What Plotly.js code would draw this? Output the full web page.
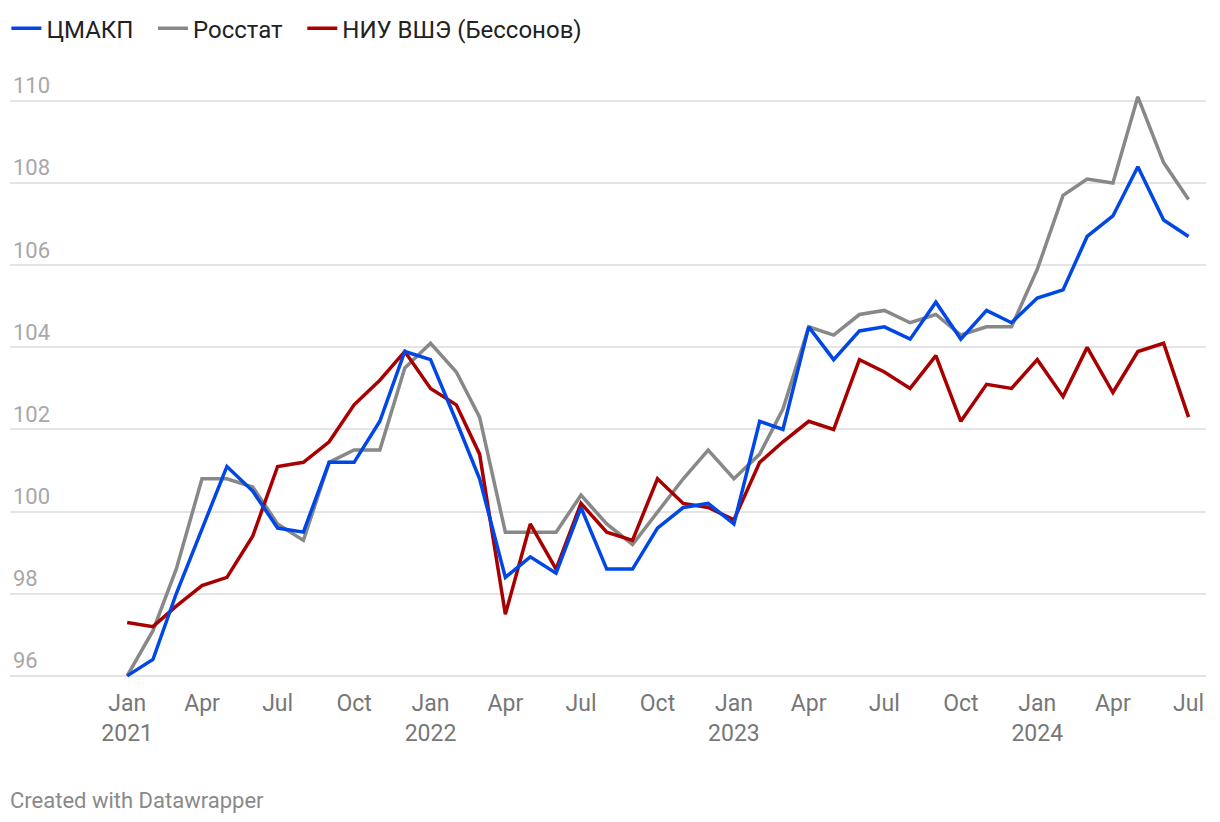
<!DOCTYPE html>
<html>
<head>
<meta charset="utf-8">
<script src="https://cdn.plot.ly/plotly-3.0.1.min.js"></script>
<style>
html,body{margin:0;padding:0;background:#fff;}
#chart{width:1220px;height:822px;}
</style>
</head>
<body>
<div id="chart"></div>
<script>
const months = [
 "2021-01-01","2021-02-01","2021-03-01","2021-04-01","2021-05-01","2021-06-01","2021-07-01","2021-08-01","2021-09-01","2021-10-01","2021-11-01","2021-12-01",
 "2022-01-01","2022-02-01","2022-03-01","2022-04-01","2022-05-01","2022-06-01","2022-07-01","2022-08-01","2022-09-01","2022-10-01","2022-11-01","2022-12-01",
 "2023-01-01","2023-02-01","2023-03-01","2023-04-01","2023-05-01","2023-06-01","2023-07-01","2023-08-01","2023-09-01","2023-10-01","2023-11-01","2023-12-01",
 "2024-01-01","2024-02-01","2024-03-01","2024-04-01","2024-05-01","2024-06-01","2024-07-01"
];
const cmakp = [96.0,96.4,98.0,99.6,101.1,100.5,99.6,99.5,101.2,101.2,102.2,103.9,
 103.7,102.2,100.8,98.4,98.9,98.5,100.1,98.6,98.6,99.6,100.1,100.2,
 99.7,102.2,102.0,104.5,103.7,104.4,104.5,104.2,105.1,104.2,104.9,104.6,
 105.2,105.4,106.7,107.2,108.4,107.1,106.7];
const rosstat = [96.0,97.1,98.6,100.8,100.8,100.6,99.7,99.3,101.2,101.5,101.5,103.5,
 104.1,103.4,102.3,99.5,99.5,99.5,100.4,99.7,99.2,100.0,100.8,101.5,
 100.8,101.4,102.5,104.5,104.3,104.8,104.9,104.6,104.8,104.3,104.5,104.5,
 105.9,107.7,108.1,108.0,110.1,108.5,107.6];
const hse = [97.3,97.2,97.7,98.2,98.4,99.4,101.1,101.2,101.7,102.6,103.2,103.9,
 103.0,102.6,101.4,97.5,99.7,98.6,100.2,99.5,99.3,100.8,100.2,100.1,
 99.8,101.2,101.7,102.2,102.0,103.7,103.4,103.0,103.8,102.2,103.1,103.0,
 103.7,102.8,104.0,102.9,103.9,104.1,102.3];
const seriesNames = ["ЦМАКП","Росстат","НИУ ВШЭ (Бессонов)"];
const tickDates = ["2021-01-01","2021-04-01","2021-07-01","2021-10-01","2022-01-01","2022-04-01","2022-07-01","2022-10-01",
 "2023-01-01","2023-04-01","2023-07-01","2023-10-01","2024-01-01","2024-04-01","2024-07-01"];
const tickLabels = ["Jan<br>2021","Apr","Jul","Oct","Jan<br>2022","Apr","Jul","Oct","Jan<br>2023","Apr","Jul","Oct","Jan<br>2024","Apr","Jul"];
const yTicks = [96,98,100,102,104,106,108,110];

const FONT = "Roboto, 'Noto Sans', sans-serif";
const GAP = "\u2002\u200A";
const traces = [
 {x: months, y: rosstat, name: seriesNames[1] + GAP, type: "scatter", mode: "lines", legendrank: 2,
  line: {color: "#888888", width: 3.5}, hoverinfo: "skip"},
 {x: months, y: hse, name: seriesNames[2], type: "scatter", mode: "lines", legendrank: 3,
  line: {color: "#a80000", width: 3.5}, hoverinfo: "skip"},
 {x: months, y: cmakp, name: seriesNames[0] + GAP, type: "scatter", mode: "lines", legendrank: 1,
  line: {color: "#0047e6", width: 3.5}, hoverinfo: "skip"}
];
const layout = {
 width: 1220, height: 822,
 paper_bgcolor: "#ffffff", plot_bgcolor: "#ffffff",
 margin: {l: 10, r: 14, t: 64, b: 142, pad: 0},
 font: {family: FONT, size: 22, color: "#333"},
 showlegend: true,
 legend: {orientation: "h", x: -0.003, xanchor: "left", yref: "container", y: 0.965, yanchor: "middle",
  font: {family: FONT, size: 24, color: "#222"}, bgcolor: "rgba(0,0,0,0)", traceorder: "normal"},
 xaxis: {type: "date", range: ["2020-08-13", "2024-07-22"], tickmode: "array", tickvals: tickDates, ticktext: tickLabels,
  showgrid: false, zeroline: false, showline: false, ticks: "", ticklabelstandoff: 7,
  tickfont: {family: FONT, size: 23, color: "#777"}, fixedrange: true},
 yaxis: {range: [95.9, 110.9], tickmode: "array", tickvals: yTicks, ticktext: yTicks.map(String),
  showgrid: true, gridcolor: "#e4e4e4", gridwidth: 2, zeroline: false, showline: false, ticks: "",
  ticklabelposition: "inside top", tickfont: {family: FONT, size: 22, color: "#a8a8a8"}, fixedrange: true},
 annotations: [
  {text: "Created with Datawrapper", xref: "paper", yref: "paper", x: 0, xshift: -2, y: -0.196, xanchor: "left", yanchor: "middle",
   showarrow: false, font: {family: FONT, size: 22, color: "#8a8a8a"}}
 ]
};
Plotly.newPlot("chart", traces, layout, {displayModeBar: false, staticPlot: true});
</script>
</body>
</html>
